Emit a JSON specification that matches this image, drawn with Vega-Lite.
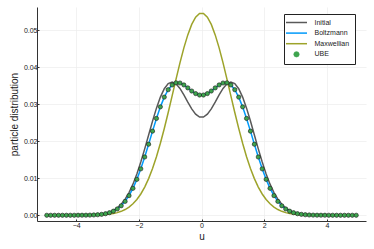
{
  "$schema": "https://vega.github.io/schema/vega-lite/v6.json",
  "autosize": "none",
  "width": 329,
  "height": 214,
  "padding": {"left": 37, "top": 7, "right": 8, "bottom": 28},
  "background": "white",
  "config": {
    "font": "Liberation Sans",
    "view": {"stroke": null},
    "axis": {
      "labelFontSize": 7,
      "labelColor": "#222",
      "titleFontSize": 10,
      "titleFontWeight": "normal",
      "titleColor": "#222",
      "domainColor": "#333",
      "domainWidth": 1,
      "tickColor": "#333",
      "tickSize": -2,
      "gridColor": "#ececec",
      "gridWidth": 0.7
    }
  },
  "data": {
    "values": [
      {"u": -4.9375, "Initial": 0, "Boltzmann": 0, "Maxwellian": 0, "UBE": 0},
      {"u": -4.8125, "Initial": 0, "Boltzmann": 0, "Maxwellian": 0, "UBE": 0},
      {"u": -4.6875, "Initial": 0, "Boltzmann": 0, "Maxwellian": 0, "UBE": 0},
      {"u": -4.5625, "Initial": 0, "Boltzmann": 0, "Maxwellian": 0, "UBE": 0},
      {"u": -4.4375, "Initial": 0, "Boltzmann": 0, "Maxwellian": 0, "UBE": 0},
      {"u": -4.3125, "Initial": 0, "Boltzmann": 0, "Maxwellian": 0, "UBE": 0},
      {"u": -4.1875, "Initial": 0.000001, "Boltzmann": 0.000001, "Maxwellian": 0.000001, "UBE": 0.000001},
      {"u": -4.0625, "Initial": 0.000003, "Boltzmann": 0.000003, "Maxwellian": 0.000003, "UBE": 0.000003},
      {"u": -3.9375, "Initial": 0.000006, "Boltzmann": 0.000006, "Maxwellian": 0.000005, "UBE": 0.000006},
      {"u": -3.8125, "Initial": 0.000012, "Boltzmann": 0.000012, "Maxwellian": 0.000009, "UBE": 0.000012},
      {"u": -3.6875, "Initial": 0.000024, "Boltzmann": 0.000022, "Maxwellian": 0.000016, "UBE": 0.000022},
      {"u": -3.5625, "Initial": 0.000047, "Boltzmann": 0.000043, "Maxwellian": 0.000027, "UBE": 0.000043},
      {"u": -3.4375, "Initial": 0.000088, "Boltzmann": 0.000079, "Maxwellian": 0.000046, "UBE": 0.000079},
      {"u": -3.3125, "Initial": 0.00016, "Boltzmann": 0.000142, "Maxwellian": 0.000076, "UBE": 0.000142},
      {"u": -3.1875, "Initial": 0.000282, "Boltzmann": 0.000248, "Maxwellian": 0.000123, "UBE": 0.000248},
      {"u": -3.0625, "Initial": 0.000481, "Boltzmann": 0.000421, "Maxwellian": 0.000197, "UBE": 0.000421},
      {"u": -2.9375, "Initial": 0.000795, "Boltzmann": 0.000692, "Maxwellian": 0.000309, "UBE": 0.000692},
      {"u": -2.8125, "Initial": 0.001273, "Boltzmann": 0.001104, "Maxwellian": 0.000475, "UBE": 0.001104},
      {"u": -2.6875, "Initial": 0.001976, "Boltzmann": 0.001709, "Maxwellian": 0.000718, "UBE": 0.001709},
      {"u": -2.5625, "Initial": 0.002974, "Boltzmann": 0.002569, "Maxwellian": 0.001064, "UBE": 0.002569},
      {"u": -2.4375, "Initial": 0.004338, "Boltzmann": 0.003747, "Maxwellian": 0.001549, "UBE": 0.003747},
      {"u": -2.3125, "Initial": 0.006135, "Boltzmann": 0.005303, "Maxwellian": 0.00221, "UBE": 0.005303},
      {"u": -2.1875, "Initial": 0.008405, "Boltzmann": 0.00728, "Maxwellian": 0.003098, "UBE": 0.00728},
      {"u": -2.0625, "Initial": 0.011166, "Boltzmann": 0.009702, "Maxwellian": 0.004261, "UBE": 0.009702},
      {"u": -1.9375, "Initial": 0.014376, "Boltzmann": 0.012548, "Maxwellian": 0.005752, "UBE": 0.012548},
      {"u": -1.8125, "Initial": 0.017941, "Boltzmann": 0.015753, "Maxwellian": 0.007621, "UBE": 0.015753},
      {"u": -1.6875, "Initial": 0.021706, "Boltzmann": 0.019205, "Maxwellian": 0.009907, "UBE": 0.019205},
      {"u": -1.5625, "Initial": 0.02546, "Boltzmann": 0.022743, "Maxwellian": 0.012642, "UBE": 0.022743},
      {"u": -1.4375, "Initial": 0.02896, "Boltzmann": 0.026177, "Maxwellian": 0.015831, "UBE": 0.026177},
      {"u": -1.3125, "Initial": 0.031955, "Boltzmann": 0.029306, "Maxwellian": 0.019458, "UBE": 0.029306},
      {"u": -1.1875, "Initial": 0.034221, "Boltzmann": 0.031942, "Maxwellian": 0.023471, "UBE": 0.031942},
      {"u": -1.0625, "Initial": 0.035599, "Boltzmann": 0.033943, "Maxwellian": 0.027787, "UBE": 0.033943},
      {"u": -0.9375, "Initial": 0.036024, "Boltzmann": 0.035231, "Maxwellian": 0.032282, "UBE": 0.035231},
      {"u": -0.8125, "Initial": 0.035537, "Boltzmann": 0.035807, "Maxwellian": 0.036811, "UBE": 0.035807},
      {"u": -0.6875, "Initial": 0.034293, "Boltzmann": 0.035756, "Maxwellian": 0.041194, "UBE": 0.035756},
      {"u": -0.5625, "Initial": 0.032538, "Boltzmann": 0.035231, "Maxwellian": 0.045242, "UBE": 0.035231},
      {"u": -0.4375, "Initial": 0.03058, "Boltzmann": 0.034435, "Maxwellian": 0.048766, "UBE": 0.034435},
      {"u": -0.3125, "Initial": 0.028747, "Boltzmann": 0.033589, "Maxwellian": 0.051587, "UBE": 0.033589},
      {"u": -0.1875, "Initial": 0.027333, "Boltzmann": 0.032893, "Maxwellian": 0.053558, "UBE": 0.032893},
      {"u": -0.0625, "Initial": 0.026566, "Boltzmann": 0.032503, "Maxwellian": 0.054572, "UBE": 0.032503},
      {"u": 0.0625, "Initial": 0.026566, "Boltzmann": 0.032503, "Maxwellian": 0.054572, "UBE": 0.032503},
      {"u": 0.1875, "Initial": 0.027333, "Boltzmann": 0.032893, "Maxwellian": 0.053558, "UBE": 0.032893},
      {"u": 0.3125, "Initial": 0.028747, "Boltzmann": 0.033589, "Maxwellian": 0.051587, "UBE": 0.033589},
      {"u": 0.4375, "Initial": 0.03058, "Boltzmann": 0.034435, "Maxwellian": 0.048766, "UBE": 0.034435},
      {"u": 0.5625, "Initial": 0.032538, "Boltzmann": 0.035231, "Maxwellian": 0.045242, "UBE": 0.035231},
      {"u": 0.6875, "Initial": 0.034293, "Boltzmann": 0.035756, "Maxwellian": 0.041194, "UBE": 0.035756},
      {"u": 0.8125, "Initial": 0.035537, "Boltzmann": 0.035807, "Maxwellian": 0.036811, "UBE": 0.035807},
      {"u": 0.9375, "Initial": 0.036024, "Boltzmann": 0.035231, "Maxwellian": 0.032282, "UBE": 0.035231},
      {"u": 1.0625, "Initial": 0.035599, "Boltzmann": 0.033943, "Maxwellian": 0.027787, "UBE": 0.033943},
      {"u": 1.1875, "Initial": 0.034221, "Boltzmann": 0.031942, "Maxwellian": 0.023471, "UBE": 0.031942},
      {"u": 1.3125, "Initial": 0.031955, "Boltzmann": 0.029306, "Maxwellian": 0.019458, "UBE": 0.029306},
      {"u": 1.4375, "Initial": 0.02896, "Boltzmann": 0.026177, "Maxwellian": 0.015831, "UBE": 0.026177},
      {"u": 1.5625, "Initial": 0.02546, "Boltzmann": 0.022743, "Maxwellian": 0.012642, "UBE": 0.022743},
      {"u": 1.6875, "Initial": 0.021706, "Boltzmann": 0.019205, "Maxwellian": 0.009907, "UBE": 0.019205},
      {"u": 1.8125, "Initial": 0.017941, "Boltzmann": 0.015753, "Maxwellian": 0.007621, "UBE": 0.015753},
      {"u": 1.9375, "Initial": 0.014376, "Boltzmann": 0.012548, "Maxwellian": 0.005752, "UBE": 0.012548},
      {"u": 2.0625, "Initial": 0.011166, "Boltzmann": 0.009702, "Maxwellian": 0.004261, "UBE": 0.009702},
      {"u": 2.1875, "Initial": 0.008405, "Boltzmann": 0.00728, "Maxwellian": 0.003098, "UBE": 0.00728},
      {"u": 2.3125, "Initial": 0.006135, "Boltzmann": 0.005303, "Maxwellian": 0.00221, "UBE": 0.005303},
      {"u": 2.4375, "Initial": 0.004338, "Boltzmann": 0.003747, "Maxwellian": 0.001549, "UBE": 0.003747},
      {"u": 2.5625, "Initial": 0.002974, "Boltzmann": 0.002569, "Maxwellian": 0.001064, "UBE": 0.002569},
      {"u": 2.6875, "Initial": 0.001976, "Boltzmann": 0.001709, "Maxwellian": 0.000718, "UBE": 0.001709},
      {"u": 2.8125, "Initial": 0.001273, "Boltzmann": 0.001104, "Maxwellian": 0.000475, "UBE": 0.001104},
      {"u": 2.9375, "Initial": 0.000795, "Boltzmann": 0.000692, "Maxwellian": 0.000309, "UBE": 0.000692},
      {"u": 3.0625, "Initial": 0.000481, "Boltzmann": 0.000421, "Maxwellian": 0.000197, "UBE": 0.000421},
      {"u": 3.1875, "Initial": 0.000282, "Boltzmann": 0.000248, "Maxwellian": 0.000123, "UBE": 0.000248},
      {"u": 3.3125, "Initial": 0.00016, "Boltzmann": 0.000142, "Maxwellian": 0.000076, "UBE": 0.000142},
      {"u": 3.4375, "Initial": 0.000088, "Boltzmann": 0.000079, "Maxwellian": 0.000046, "UBE": 0.000079},
      {"u": 3.5625, "Initial": 0.000047, "Boltzmann": 0.000043, "Maxwellian": 0.000027, "UBE": 0.000043},
      {"u": 3.6875, "Initial": 0.000024, "Boltzmann": 0.000022, "Maxwellian": 0.000016, "UBE": 0.000022},
      {"u": 3.8125, "Initial": 0.000012, "Boltzmann": 0.000012, "Maxwellian": 0.000009, "UBE": 0.000012},
      {"u": 3.9375, "Initial": 0.000006, "Boltzmann": 0.000006, "Maxwellian": 0.000005, "UBE": 0.000006},
      {"u": 4.0625, "Initial": 0.000003, "Boltzmann": 0.000003, "Maxwellian": 0.000003, "UBE": 0.000003},
      {"u": 4.1875, "Initial": 0.000001, "Boltzmann": 0.000001, "Maxwellian": 0.000001, "UBE": 0.000001},
      {"u": 4.3125, "Initial": 0, "Boltzmann": 0, "Maxwellian": 0, "UBE": 0},
      {"u": 4.4375, "Initial": 0, "Boltzmann": 0, "Maxwellian": 0, "UBE": 0},
      {"u": 4.5625, "Initial": 0, "Boltzmann": 0, "Maxwellian": 0, "UBE": 0},
      {"u": 4.6875, "Initial": 0, "Boltzmann": 0, "Maxwellian": 0, "UBE": 0},
      {"u": 4.8125, "Initial": 0, "Boltzmann": 0, "Maxwellian": 0, "UBE": 0},
      {"u": 4.9375, "Initial": 0, "Boltzmann": 0, "Maxwellian": 0, "UBE": 0}
    ]
  },
  "transform": [
    {"fold": ["Initial", "Boltzmann", "Maxwellian", "UBE"], "as": ["series", "value"]}
  ],
  "encoding": {
    "x": {
      "field": "u", "type": "quantitative",
      "scale": {"domain": [-5.25, 5.25], "nice": false, "zero": false},
      "axis": {"values": [-4, -2, 0, 2, 4], "title": "u", "labelPadding": 2.5, "titlePadding": 3, "format": "d"}
    },
    "y": {
      "field": "value", "type": "quantitative",
      "scale": {"domain": [-0.00155, 0.0563], "nice": false, "zero": false},
      "axis": {"values": [0, 0.01, 0.02, 0.03, 0.04, 0.05], "format": ".2f", "title": "particle distribution", "labelPadding": 2, "titlePadding": 4}
    },
    "color": {
      "field": "series", "type": "nominal",
      "scale": {
        "domain": ["Initial", "Boltzmann", "Maxwellian", "UBE"],
        "range": ["#595959", "#009AFA", "#9DA32A", "#3DA44D"]
      }
    }
  },
  "layer": [
    {
      "transform": [{"filter": "datum.series !== 'UBE'"}],
      "mark": {"type": "line", "strokeWidth": 1.5},
      "encoding": {
        "color": {
          "field": "series", "type": "nominal",
          "legend": {
            "title": null,
            "orient": "none",
            "legendX": 247,
            "legendY": 7,
            "padding": 5,
            "strokeColor": "#222",
            "fillColor": "white",
            "cornerRadius": 0,
            "labelFontSize": 7,
            "labelColor": "#222",
            "labelOffset": 14.5,
            "symbolSize": 49,
            "symbolOffset": 4,
            "rowPadding": 2.6,
            "encode": {
              "symbols": {
                "update": {
                  "shape": {"signal": "datum.value === 'UBE' ? 'circle' : 'M-3,0H3'"},
                  "size": {"signal": "datum.value === 'UBE' ? 28 : 49"},
                  "fill": {"signal": "datum.value === 'UBE' ? '#3DA44D' : 'transparent'"},
                  "stroke": {"signal": "datum.value === 'UBE' ? '#1a1a1a' : scale('color', datum.value)"},
                  "strokeWidth": {"signal": "datum.value === 'UBE' ? 0.7 : 1.5"},
                  "opacity": {"value": 1}
                }
              }
            }
          }
        }
      }
    },
    {
      "transform": [{"filter": "datum.series === 'UBE'"}],
      "mark": {"type": "point", "filled": true, "size": 18, "stroke": "#1a1a1a", "strokeWidth": 0.6, "opacity": 1},
      "encoding": {
        "color": {"field": "series", "type": "nominal", "legend": null}
      }
    }
  ]
}
